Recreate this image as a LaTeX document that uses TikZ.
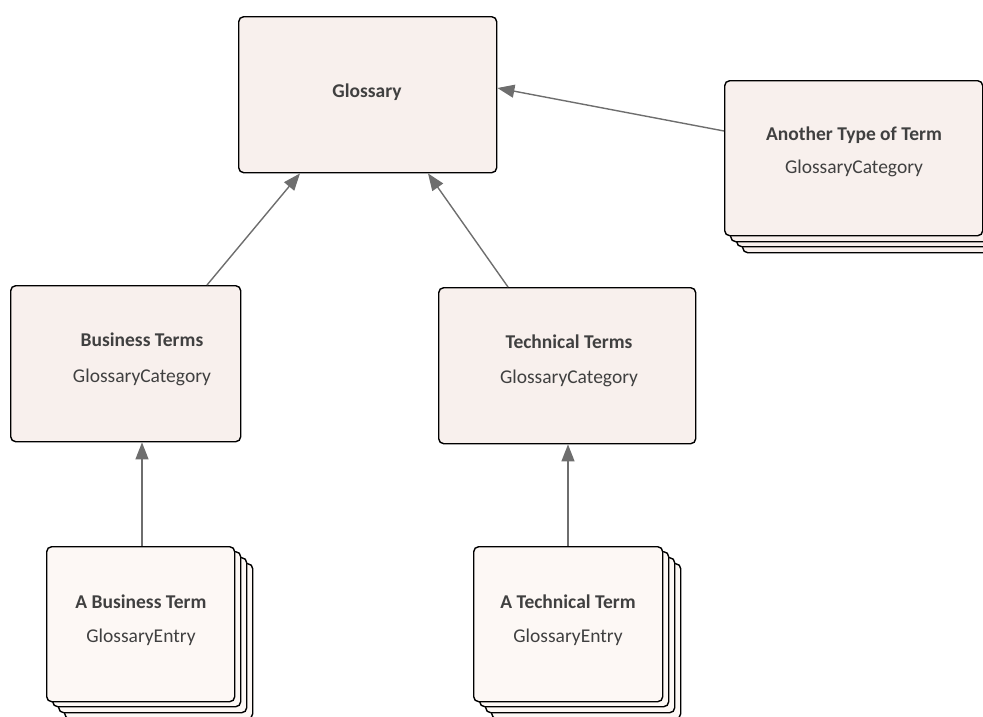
\documentclass[tikz,border=0pt]{standalone}
\usepackage{fontspec}
\setmainfont{Carlito}
\usetikzlibrary{arrows.meta,calc}
\definecolor{boxfill}{HTML}{F8F0ED}
\definecolor{entryfill}{HTML}{FDF8F5}
\definecolor{txt}{HTML}{404040}
\definecolor{conn}{HTML}{6E6E6E}
\tikzset{
  box/.style={draw=black, line width=1.4pt, rounded corners=5pt, fill=boxfill, anchor=north west, inner sep=0pt},
  entrybox/.style={box, fill=entryfill},
  ttl/.style={text=txt, font=\fontsize{19.5}{22}\selectfont\bfseries, inner sep=0pt},
  sub/.style={text=txt, font=\fontsize{19.5}{22}\selectfont, inner sep=0pt},
  conn/.style={draw=conn, line width=1.4pt, -{Triangle[length=17pt,width=13pt]}}
}
\begin{document}
\begin{tikzpicture}[x=1pt,y=-1pt]
\useasboundingbox (0,0) rectangle (983,716);
% Glossary
\node[box, minimum width=258pt, minimum height=156pt] (glos) at (238,16) {};
\node[ttl] (glost) at (367,92) {Glossary};
% Another Type of Term (stack)
\node[box, minimum width=258pt, minimum height=155pt] (an3) at (742,97) {};
\node[box, minimum width=258pt, minimum height=155pt] (an2) at (736,91) {};
\node[box, minimum width=258pt, minimum height=155pt] (an1) at (730,86) {};
\node[box, minimum width=258pt, minimum height=155pt] (an) at (724,80) {};
\node[ttl] (ant) at (854,135) {Another Type of Term};
\node[sub] (ans) at (854,168) {GlossaryCategory};
% Business Terms
\node[box, minimum width=230pt, minimum height=156pt] (bizt) at (10,285) {};
\node[ttl] (biztt) at (142,340) {Business Terms};
\node[sub] (bizts) at (142,377) {GlossaryCategory};
% Technical Terms
\node[box, minimum width=257pt, minimum height=156pt] (tect) at (438,287) {};
\node[ttl] (tectt) at (569,342) {Technical Terms};
\node[sub] (tects) at (569,378) {GlossaryCategory};
% A Business Term (stack)
\node[entrybox, minimum width=188pt, minimum height=155pt] (be3) at (64,563) {};
\node[entrybox, minimum width=188pt, minimum height=155pt] (be2) at (58,557) {};
\node[entrybox, minimum width=188pt, minimum height=155pt] (be1) at (52,551) {};
\node[entrybox, minimum width=188pt, minimum height=155pt] (be) at (46,546) {};
\node[ttl] (bet) at (141,602) {A Business Term};
\node[sub] (bes) at (141,637) {GlossaryEntry};
% A Technical Term (stack)
\node[entrybox, minimum width=189pt, minimum height=155pt] (te3) at (491,563) {};
\node[entrybox, minimum width=189pt, minimum height=155pt] (te2) at (485,557) {};
\node[entrybox, minimum width=189pt, minimum height=155pt] (te1) at (479,551) {};
\node[entrybox, minimum width=189pt, minimum height=155pt] (te) at (473,546) {};
\node[ttl] (tet) at (568,602) {A Technical Term};
\node[sub] (tes) at (568,637) {GlossaryEntry};
% connectors
\draw[conn] ($(bizt.north west)+(197,0)$) -- ($(glos.south west)+(62,0)$);
\draw[conn] ($(tect.north west)+(70,0)$) -- ($(glos.south west)+(190,0)$);
\draw[conn] ($(an.north west)+(0,51)$) -- ($(glos.north east)+(0,72)$);
\draw[conn] (be.north -| bizts) -- (bizt.south -| bizts);
\draw[conn] (te.north -| tes) -- (tect.south -| tes);
\end{tikzpicture}
\end{document}
